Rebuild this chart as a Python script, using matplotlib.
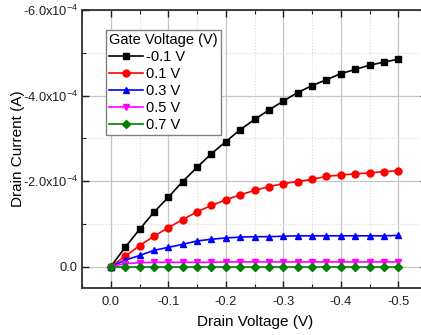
import matplotlib
matplotlib.use("Agg")
import matplotlib.pyplot as plt
from matplotlib.ticker import MultipleLocator, FixedLocator, FixedFormatter

plt.rcParams['font.family'] = ['Liberation Sans', 'DejaVu Sans']
plt.rcParams['mathtext.fontset'] = 'custom'
plt.rcParams['mathtext.rm'] = 'Liberation Sans'
plt.rcParams['mathtext.it'] = 'Liberation Sans'

drain_voltage = [0.0, -0.025, -0.05, -0.075, -0.1, -0.125, -0.15, -0.175, -0.2, -0.225, -0.25,
                 -0.275, -0.3, -0.325, -0.35, -0.375, -0.4, -0.425, -0.45, -0.475, -0.5]

gate_labels = ["-0.1 V", "0.1 V", "0.3 V", "0.5 V", "0.7 V"]

current_m01 = [0.0, -0.45, -0.87, -1.27, -1.62, -1.99, -2.32, -2.64, -2.92, -3.20, -3.44,
               -3.66, -3.87, -4.07, -4.23, -4.37, -4.51, -4.61, -4.71, -4.78, -4.85]
current_01 = [0.0, -0.24, -0.49, -0.71, -0.91, -1.10, -1.28, -1.43, -1.56, -1.68, -1.78,
              -1.87, -1.94, -1.99, -2.04, -2.11, -2.14, -2.17, -2.19, -2.22, -2.24]
current_03 = [0.0, -0.15, -0.26, -0.38, -0.45, -0.52, -0.60, -0.64, -0.67, -0.69, -0.70,
              -0.70, -0.71, -0.72, -0.72, -0.72, -0.72, -0.72, -0.72, -0.72, -0.73]
current_05 = [0.0, -0.07, -0.09, -0.10, -0.10, -0.10, -0.10, -0.10, -0.11, -0.11, -0.11,
              -0.11, -0.11, -0.11, -0.11, -0.11, -0.11, -0.11, -0.11, -0.11, -0.11]
current_07 = [0.0] * 21

series = [current_m01, current_01, current_03, current_05, current_07]
colors = ["#000000", "#ff0000", "#0000ff", "#ff00ff", "#008000"]
markers = ["s", "o", "^", "v", "D"]
msizes = [4.5, 5.0, 5.0, 5.0, 4.5]

y_ticks = [0.0, -2.0e-4, -4.0e-4, -6.0e-4]
y_tick_labels = ["0.0", r"-2.0x10$^{-4}$", r"-4.0x10$^{-4}$", r"-6.0x10$^{-4}$"]
x_ticks = [0.0, -0.1, -0.2, -0.3, -0.4, -0.5]
x_tick_labels = ["0.0", "-0.1", "-0.2", "-0.3", "-0.4", "-0.5"]

fig = plt.figure(figsize=(4.21, 3.35), dpi=100)
ax = fig.add_axes([82 / 421, 47 / 335, 345 / 421, 278 / 335])

for vals, c, m, ms, lab in zip(series, colors, markers, msizes, gate_labels):
    ax.plot(drain_voltage, [v * 1e-4 for v in vals], color=c, marker=m, markersize=ms,
            linewidth=1.2, label=lab, zorder=3)

ax.set_xlim(0.05, -0.55)
ax.set_ylim(0.5e-4, -6.0e-4)

ax.xaxis.set_major_locator(FixedLocator(x_ticks))
ax.xaxis.set_major_formatter(FixedFormatter(x_tick_labels))
ax.xaxis.set_minor_locator(MultipleLocator(0.05))
ax.yaxis.set_major_locator(FixedLocator(y_ticks))
ax.yaxis.set_major_formatter(FixedFormatter(y_tick_labels))
ax.yaxis.set_minor_locator(FixedLocator([-1e-4, -3e-4, -5e-4]))

ax.grid(True, which='major', color='#c4c4c4', linewidth=0.9, linestyle='-')
ax.grid(True, which='minor', color='#d9d9d9', linewidth=0.8, linestyle=':')
ax.set_axisbelow(True)

ax.tick_params(which='both', direction='in', top=True, right=True, labelsize=9.3, colors='#202020')
ax.tick_params(which='major', length=5, width=1.0, pad=3)
ax.tick_params(which='minor', length=3, width=0.8)
ax.tick_params(axis='x', which='major', pad=6)
for sp in ax.spines.values():
    sp.set_linewidth(1.3)
    sp.set_color('#303030')

ax.set_xlabel("Drain Voltage (V)", fontsize=11)
ax.set_ylabel("Drain Current (A)", fontsize=11)
ax.xaxis.set_label_coords(0.501, -0.097)
ax.yaxis.set_label_coords(-0.165, 0.5)

leg = ax.legend(title="Gate Voltage (V)", loc='upper left', bbox_to_anchor=(0.0696, 0.928),
                borderaxespad=0, fontsize=10.5, title_fontsize=10.5, fancybox=False,
                edgecolor='#808080', framealpha=1, handlelength=2.3, labelspacing=0.2,
                borderpad=0.22, handletextpad=0.25)
leg.get_frame().set_linewidth(1.0)
leg._legend_box.align = "left"

fig.savefig("out.png", dpi=100)
